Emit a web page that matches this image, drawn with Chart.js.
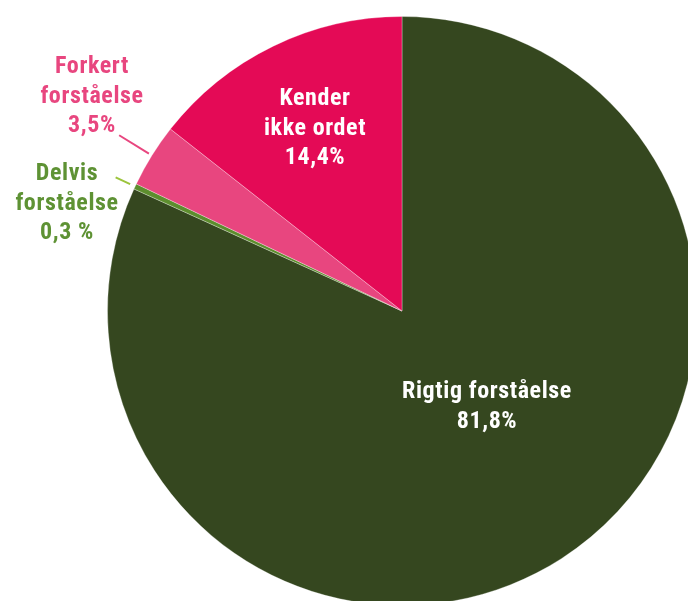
<!DOCTYPE html>
<html lang="da">
<head>
    <meta charset="UTF-8">
    <title>Forståelse af ordet</title>
    <style>
        html, body {
            margin: 0;
            padding: 0;
            background: #ffffff;
            overflow: hidden;
            width: 688px;
            height: 601px;
        }
        .pie-wrap {
            position: absolute;
            left: 0;
            top: 0;
            width: 804px;
            height: 622px;
        }
    </style>
</head>
<body>
    <div class="pie-wrap">
        <canvas id="pieChart"></canvas>
    </div>

    <script src="https://cdn.jsdelivr.net/npm/chart.js"></script>
    <script>
        // Data
        const categories = ['Rigtig forståelse', 'Delvis forståelse', 'Forkert forståelse', 'Kender ikke ordet'];
        const shares = [81.8, 0.3, 3.5, 14.4];
        const valueLabels = ['81,8%', '0,3 %', '3,5%', '14,4%'];

        const sliceColors = ['#35471f', '#5d8d2e', '#e8467f', '#e40a56'];

        // text lines for each slice, offset from the pie centre
        const labelSetup = [
            { lines: ['Rigtig forståelse'], color: '#ffffff', dx: 85, dy: 87 },
            { lines: ['Delvis', 'forståelse'], color: '#5e9234', dx: -335, dy: -131, leader: '#9cc43c', r0: 300, r1: 316 },
            { lines: ['Forkert', 'forståelse'], color: '#e8467f', dx: -310, dy: -238, leader: '#e8467f', r0: 298, r1: 333 },
            { lines: ['Kender', 'ikke ordet'], color: '#ffffff', dx: -87, dy: -206 }
        ];

        const FONT = 'bold 24px "Liberation Sans Narrow", "Roboto Condensed", Roboto, sans-serif';
        const LINE_H = 29.5;

        const sliceLabels = {
            id: 'sliceLabels',
            afterDatasetsDraw(chart) {
                const ctx = chart.ctx;
                const arcs = chart.getDatasetMeta(0).data;
                ctx.save();
                arcs.forEach((arc, i) => {
                    const cfg = labelSetup[i];
                    const cx = arc.x, cy = arc.y;

                    if (cfg.leader) {
                        const mid = (arc.startAngle + arc.endAngle) / 2;
                        ctx.beginPath();
                        ctx.strokeStyle = cfg.leader;
                        ctx.lineWidth = 2;
                        ctx.moveTo(cx + Math.cos(mid) * cfg.r0, cy + Math.sin(mid) * cfg.r0);
                        ctx.lineTo(cx + Math.cos(mid) * cfg.r1, cy + Math.sin(mid) * cfg.r1);
                        ctx.stroke();
                    }

                    ctx.font = FONT;
                    ctx.letterSpacing = '0.6px';
                    ctx.fillStyle = cfg.color;
                    ctx.textAlign = 'center';
                    ctx.textBaseline = 'alphabetic';
                    const lines = cfg.lines.concat(valueLabels[i]);
                    lines.forEach((t, k) => {
                        ctx.fillText(t, cx + cfg.dx, cy + cfg.dy + k * LINE_H);
                    });
                });
                ctx.restore();
            }
        };

        new Chart(document.getElementById('pieChart'), {
            type: 'pie',
            data: {
                labels: categories,
                datasets: [{
                    data: shares,
                    backgroundColor: sliceColors,
                    borderColor: 'rgba(255,255,255,0.3)',
                    borderWidth: 1,
                    hoverOffset: 0
                }]
            },
            options: {
                responsive: true,
                maintainAspectRatio: false,
                animation: false,
                events: [],
                layout: {
                    padding: { left: 107, right: 107, top: 16, bottom: 16 }
                },
                plugins: {
                    legend: { display: false },
                    tooltip: { enabled: false }
                }
            },
            plugins: [sliceLabels]
        });
    </script>
</body>
</html>
